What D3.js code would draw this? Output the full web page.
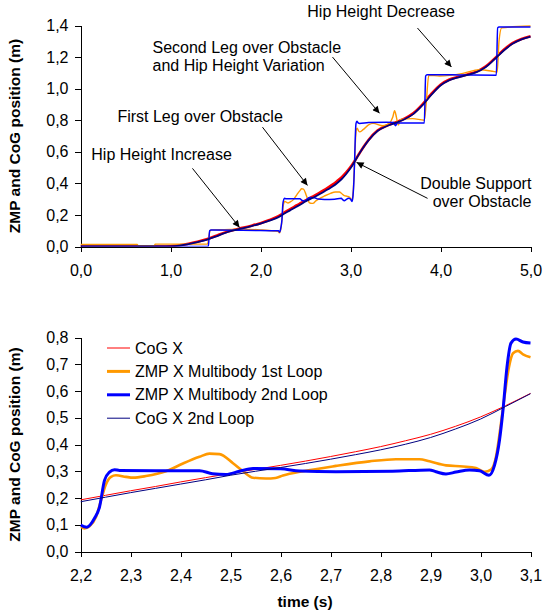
<!DOCTYPE html>
<html>
<head>
<meta charset="utf-8">
<script src="https://cdn.jsdelivr.net/npm/d3@7"></script>
<style>
  body { margin: 0; background: #fff; }
  svg { display: block; font-family: "Liberation Sans", Arial, sans-serif; }
  .axis path, .axis line { stroke: #000; stroke-width: 1; shape-rendering: crispEdges; }
</style>
</head>
<body>
<svg id="chart" width="543" height="616"></svg>
<script>
// time (s), position (m) pairs
var cogX = [
  [0, 0], [0.9, 0], [1.0, 0.002], [1.1, 0.008], [1.2, 0.018], [1.3, 0.03], [1.4, 0.046],
  [1.5, 0.066], [1.6, 0.088], [1.7, 0.105], [1.8, 0.118], [1.9, 0.132], [2.0, 0.148],
  [2.1, 0.168], [2.2, 0.193], [2.25, 0.21], [2.3, 0.227], [2.35, 0.243], [2.4, 0.26],
  [2.45, 0.276], [2.5, 0.292], [2.55, 0.307], [2.6, 0.322], [2.65, 0.338], [2.7, 0.355],
  [2.75, 0.373], [2.8, 0.392], [2.85, 0.414], [2.9, 0.438], [2.95, 0.468], [3.0, 0.503],
  [3.05, 0.545], [3.1, 0.591], [3.15, 0.635], [3.2, 0.675], [3.3, 0.735], [3.4, 0.765],
  [3.5, 0.786], [3.6, 0.81], [3.7, 0.845], [3.8, 0.9], [3.9, 0.968], [4.0, 1.025],
  [4.1, 1.058], [4.2, 1.075], [4.3, 1.09], [4.4, 1.108], [4.5, 1.14], [4.6, 1.19],
  [4.7, 1.245], [4.8, 1.288], [4.9, 1.315], [5.0, 1.332]
];

var zmpLoop1 = [
  [0, 0.013], [0.63, 0.013], [0.64, 0.005], [0.82, 0.005], [0.83, 0.015], [1.41, 0.015],
  [1.44, 0.1], [1.46, 0.105], [1.6, 0.107], [1.8, 0.11], [2.0, 0.105], [2.15, 0.098],
  [2.2, 0.094], [2.208, 0.086], [2.218, 0.094], [2.231, 0.129], [2.241, 0.191],
  [2.25, 0.247], [2.261, 0.279], [2.271, 0.285], [2.291, 0.279], [2.305, 0.276],
  [2.331, 0.282], [2.371, 0.3], [2.405, 0.329], [2.438, 0.354], [2.458, 0.366],
  [2.478, 0.364], [2.505, 0.33], [2.525, 0.3], [2.545, 0.276], [2.571, 0.273],
  [2.59, 0.275], [2.605, 0.284], [2.645, 0.3], [2.711, 0.32], [2.778, 0.337],
  [2.831, 0.345], [2.878, 0.345], [2.898, 0.337], [2.931, 0.322], [2.965, 0.318],
  [2.991, 0.312], [3.008, 0.298], [3.021, 0.306], [3.031, 0.354], [3.04, 0.466],
  [3.048, 0.579], [3.057, 0.69], [3.065, 0.741], [3.075, 0.75], [3.085, 0.737],
  [3.1, 0.726], [3.14, 0.74], [3.2, 0.77], [3.25, 0.78], [3.36, 0.765], [3.43, 0.78],
  [3.47, 0.82], [3.49, 0.86], [3.51, 0.82], [3.53, 0.77], [3.56, 0.805], [3.69, 0.81],
  [3.82, 0.8], [3.84, 0.9], [3.87, 1.085], [3.99, 1.08], [4.25, 1.097], [4.43, 1.12],
  [4.58, 1.11], [4.63, 1.105], [4.65, 1.3], [4.68, 1.385], [5.0, 1.397]
];

var zmpLoop2 = [
  [0, 0], [1.42, 0], [1.435, 0.1], [1.45, 0.104], [1.8, 0.103], [2.1, 0.1], [2.2, 0.099],
  [2.2127, 0.091], [2.228, 0.124], [2.238, 0.166], [2.248, 0.266], [2.258, 0.297],
  [2.268, 0.306], [2.278, 0.303], [2.35, 0.302], [2.438, 0.302], [2.464, 0.291],
  [2.491, 0.288], [2.518, 0.3], [2.545, 0.31], [2.6, 0.309], [2.638, 0.301],
  [2.711, 0.298], [2.824, 0.3], [2.898, 0.305], [2.911, 0.298], [2.931, 0.29],
  [2.951, 0.297], [2.978, 0.305], [2.998, 0.302], [3.017, 0.285], [3.028, 0.322],
  [3.038, 0.416], [3.045, 0.529], [3.053, 0.69], [3.061, 0.779], [3.071, 0.794],
  [3.085, 0.783], [3.1, 0.779], [3.2, 0.785], [3.4, 0.787], [3.48, 0.785], [3.5, 0.765],
  [3.52, 0.782], [3.82, 0.782], [3.835, 1.08], [3.85, 1.088], [4.2, 1.087],
  [4.62, 1.085], [4.635, 1.385], [4.65, 1.39], [5.0, 1.39]
];

var cogXLoop2 = [
  [0, 0], [0.9, 0], [1.0, 0.001], [1.1, 0.006], [1.2, 0.015], [1.3, 0.027], [1.4, 0.042],
  [1.5, 0.062], [1.6, 0.085], [1.7, 0.102], [1.8, 0.115], [1.9, 0.129], [2.0, 0.145],
  [2.1, 0.164], [2.2, 0.186], [2.25, 0.203], [2.3, 0.22], [2.35, 0.236], [2.4, 0.252],
  [2.45, 0.268], [2.5, 0.285], [2.55, 0.3], [2.6, 0.314], [2.65, 0.329], [2.7, 0.345],
  [2.75, 0.362], [2.8, 0.38], [2.85, 0.401], [2.9, 0.426], [2.95, 0.458], [3.0, 0.495],
  [3.05, 0.542], [3.1, 0.59], [3.15, 0.633], [3.2, 0.672], [3.3, 0.732], [3.4, 0.762],
  [3.5, 0.783], [3.6, 0.806], [3.7, 0.84], [3.8, 0.895], [3.9, 0.962], [4.0, 1.02],
  [4.1, 1.054], [4.2, 1.072], [4.3, 1.087], [4.4, 1.105], [4.5, 1.136], [4.6, 1.186],
  [4.7, 1.24], [4.8, 1.284], [4.9, 1.312], [5.0, 1.33]
];

var seriesNames = ['CoG X', 'ZMP X Multibody 1st Loop', 'ZMP X Multibody 2nd Loop', 'CoG X 2nd Loop'];
var seriesColors = ['#ff0000', '#ff9900', '#0000ff', '#000080'];

var topXTicks = [0, 1, 2, 3, 4, 5];
var topYTicks = [0, 0.2, 0.4, 0.6, 0.8, 1.0, 1.2, 1.4];
var bottomXTicks = [2.2, 2.3, 2.4, 2.5, 2.6, 2.7, 2.8, 2.9, 3.0, 3.1];
var bottomYTicks = [0, 0.1, 0.2, 0.3, 0.4, 0.5, 0.6, 0.7, 0.8];

// annotations in data units of the upper chart
var notes = [
  {lines: ['Hip Height Increase'], x: 0.12, y: 0.584, anchor: 'start', from: [1.244, 0.495], to: [1.767, 0.121]},
  {lines: ['First Leg over Obstacle'], x: 0.41, y: 0.825, anchor: 'start', from: [2.022, 0.756], to: [2.522, 0.387]},
  {lines: ['Second Leg over Obstacle', 'and Hip Height Variation'], x: 0.8, y: 1.263, anchor: 'start', from: [2.8, 1.2], to: [3.322, 0.844]},
  {lines: ['Hip Height Decrease'], x: 2.52, y: 1.486, anchor: 'start', from: [3.744, 1.384], to: [4.122, 1.137]},
  {lines: ['Double Support', 'over Obstacle'], x: 5.01, y: 0.4, anchor: 'end', from: [3.856, 0.305], to: [3.067, 0.533]}
];

var allSeries = [cogX, zmpLoop1, zmpLoop2, cogXLoop2];
var svg = d3.select('#chart');
var fmt = d3.formatLocale({decimal: ',', thousands: '.', grouping: [3], currency: ['', '']}).format('.1f');
var fontFamily = '"Liberation Sans", Arial, sans-serif';
var fontSize = 16;

var defs = svg.append('defs');
defs.append('marker')
    .attr('id', 'arrow')
    .attr('viewBox', '0 0 10 10')
    .attr('refX', 10).attr('refY', 5)
    .attr('markerWidth', 9).attr('markerHeight', 7)
    .attr('markerUnits', 'userSpaceOnUse')
    .attr('orient', 'auto')
  .append('path')
    .attr('d', 'M0,0L10,5L0,10Z')
    .attr('fill', '#000');

// draws one panel and returns its scales
var drawPanel = function (opt) {
  let x = d3.scaleLinear().domain(opt.xDomain).range([80.5, 530.5]);
  let y = d3.scaleLinear().domain(opt.yDomain).range(opt.yRange);
  let g = svg.append('g');

  defs.append('clipPath').attr('id', opt.id)
    .append('rect')
      .attr('x', x.range()[0]).attr('y', y.range()[1] - 2)
      .attr('width', x.range()[1] - x.range()[0] + 2)
      .attr('height', y.range()[0] - y.range()[1] + 2);

  g.append('g').attr('class', 'axis')
    .attr('transform', `translate(0,${y.range()[0]})`)
    .call(d3.axisBottom(x).tickValues(opt.xTicks).tickFormat(fmt).tickSize(5).tickPadding(13).tickSizeOuter(0))
    .attr('font-size', fontSize).attr('font-family', fontFamily);

  g.append('g').attr('class', 'axis')
    .attr('transform', `translate(${x.range()[0]},0)`)
    .call(d3.axisLeft(y).tickValues(opt.yTicks).tickFormat(fmt).tickSize(6).tickPadding(6).tickSizeOuter(0))
    .attr('font-size', fontSize).attr('font-family', fontFamily);

  g.append('text')
    .attr('transform', `translate(20,${(y.range()[0] + y.range()[1]) / 2}) rotate(-90)`)
    .attr('text-anchor', 'middle')
    .style('font-size', '15.5px').style('font-weight', 'bold')
    .text('ZMP and CoG position (m)');

  let line = d3.line()
    .x(d => x(d[0]))
    .y(d => y(d[1]))
    .curve(d3.curveMonotoneX);

  let lo = opt.xDomain[0] - 0.02, hi = opt.xDomain[1] + 0.02;
  let plot = g.append('g').attr('clip-path', `url(#${opt.id})`);
  allSeries.forEach((s, i) => {
    plot.append('path')
      .datum(s.filter(d => d[0] >= lo && d[0] <= hi))
      .attr('fill', 'none')
      .attr('stroke', seriesColors[i])
      .attr('stroke-width', opt.widths[i])
      .attr('stroke-linejoin', 'round')
      .attr('d', line);
  });

  return {x: x, y: y, g: g};
};

// upper panel, full walk
var topPanel = drawPanel({
  id: 'clip-top', xDomain: [0, 5], yDomain: [0, 1.4], yRange: [246.5, 25.5],
  xTicks: topXTicks, yTicks: topYTicks, widths: [2.6, 1.4, 1.5, 1.8]
});

notes.forEach((n) => {
  let t = topPanel.g.append('text')
    .attr('text-anchor', n.anchor)
    .style('font-size', fontSize + 'px');
  n.lines.forEach((l, i) => {
    t.append('tspan')
      .attr('x', topPanel.x(n.x))
      .attr('y', topPanel.y(n.y) + 5.5 + i * 18.5)
      .text(l);
  });
  topPanel.g.append('line')
    .attr('x1', topPanel.x(n.from[0])).attr('y1', topPanel.y(n.from[1]))
    .attr('x2', topPanel.x(n.to[0])).attr('y2', topPanel.y(n.to[1]))
    .attr('stroke', '#000').attr('stroke-width', 1)
    .attr('marker-end', 'url(#arrow)');
});

// lower panel, zoom on the second step
var bottomPanel = drawPanel({
  id: 'clip-bottom', xDomain: [2.2, 3.1], yDomain: [0, 0.8], yRange: [551.5, 337.5],
  xTicks: bottomXTicks, yTicks: bottomYTicks, widths: [1, 2.6, 3, 1]
});

bottomPanel.g.append('text')
  .attr('x', 305).attr('y', 607)
  .attr('text-anchor', 'middle')
  .style('font-size', '15.5px').style('font-weight', 'bold')
  .text('time (s)');

var legend = bottomPanel.g.append('g').attr('transform', 'translate(107,348)');
seriesNames.forEach((name, i) => {
  let row = legend.append('g').attr('transform', `translate(0,${i * 23.4})`);
  row.append('line')
    .attr('x1', 0).attr('x2', 23)
    .attr('stroke', seriesColors[i])
    .attr('stroke-width', [1, 3, 3, 1][i]);
  row.append('text')
    .attr('x', 28).attr('y', 5.5)
    .style('font-size', fontSize + 'px')
    .text(name);
});
</script>
</body>
</html>
